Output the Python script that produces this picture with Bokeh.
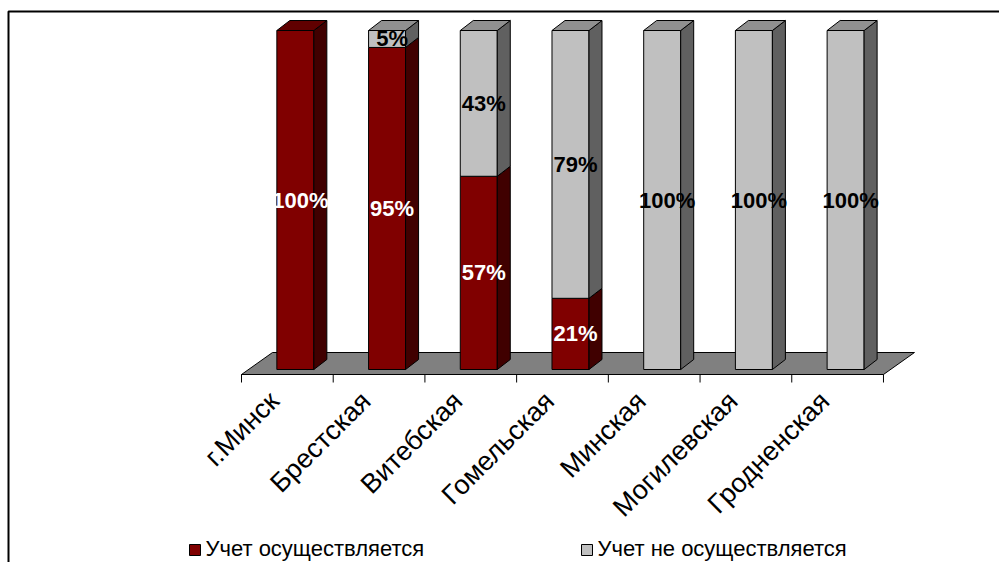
import math

from bokeh.core.properties import value
from bokeh.embed import file_html
from bokeh.models import ColumnDataSource, Range1d
from bokeh.plotting import figure
from bokeh.resources import INLINE

# ---- data -------------------------------------------------------------
categories = ["г.Минск", "Брестская", "Витебская", "Гомельская",
              "Минская", "Могилевская", "Гродненская"]
accounted = [100, 95, 57, 21, 0, 0, 0]          # %
not_accounted = [0, 5, 43, 79, 100, 100, 100]   # %
series_names = ["Учет осуществляется", "Учет не осуществляется"]

# ---- styling ----------------------------------------------------------
W, H = 999, 562
FONT = value("Liberation Sans")
RED = dict(front="#800000", side="#400000", top="#600000")
GRAY = dict(front="#C0C0C0", side="#606060", top="#909090")
FLOOR = "#808080"

# screen geometry of the category axis / value axis (pixels)
AXIS_LEFT_PX = 241.0     # where the category axis starts
CAT_PX = 91.71           # width of one category
BASE_PX = 369.0          # screen y of 0 %
PCT_PX = 3.39            # pixels per percent

BAR_W_PX = 37.0
BAR_SHIFT_PX = 8.0       # bars sit slightly back on the floor
DEPTH_X_PX, DEPTH_Y_PX = 13.0, 10.0      # bar depth (oblique)
FLOOR_DX_PX, FLOOR_DY_PX = 31.0, 22.0    # floor depth


def ux(px):
    """horizontal pixel length -> data units"""
    return px / CAT_PX


def uy(px):
    """vertical pixel length -> data units"""
    return px / PCT_PX


def sx(px):
    """screen x -> data x"""
    return (px - AXIS_LEFT_PX) / CAT_PX


def sy(py):
    """screen y -> data y"""
    return (BASE_PX - py) / PCT_PX


p = figure(width=W, height=H, output_backend="svg", toolbar_location=None,
           x_range=Range1d(sx(0), sx(W)), y_range=Range1d(sy(H), sy(0)),
           x_axis_location=None, y_axis_location=None,
           min_border=0, min_border_left=0, min_border_right=0,
           min_border_top=0, min_border_bottom=0)
p.grid.visible = False
p.outline_line_color = None
p.background_fill_color = "white"
p.border_fill_color = "white"

n = len(categories)

# ---- floor --------------------------------------------------------------
fy0 = -uy(5)
p.patch([0, n, n + ux(FLOOR_DX_PX), ux(FLOOR_DX_PX)],
        [fy0, fy0, fy0 + uy(FLOOR_DY_PX), fy0 + uy(FLOOR_DY_PX)],
        fill_color=FLOOR, line_color="black", line_width=1)

# ---- category axis --------------------------------------------------------
p.segment(x0=[0], y0=[fy0], x1=[n], y1=[fy0], line_color="black", line_width=1)
ticks = list(range(n + 1))
p.segment(x0=ticks, y0=[fy0] * len(ticks), x1=ticks,
          y1=[fy0 - uy(8)] * len(ticks), line_color="black", line_width=1)

# ---- 3D stacked bars ---------------------------------------------------
ddx, ddy = ux(DEPTH_X_PX), uy(DEPTH_Y_PX)
bw = ux(BAR_W_PX)
xs, ys, fills = [], [], []
label_x, label_y, label_t, label_c = [], [], [], []
for i in range(n):
    left = i + 0.5 - bw / 2 + ux(BAR_SHIFT_PX)
    right = left + bw
    segs = [(0, accounted[i], RED, "white"),
            (accounted[i], accounted[i] + not_accounted[i], GRAY, "black")]
    segs = [s for s in segs if s[1] > s[0]]
    for k, (lo, hi, col, tcol) in enumerate(segs):
        # front face
        xs.append([left, right, right, left])
        ys.append([lo, lo, hi, hi])
        fills.append(col["front"])
        # side face
        xs.append([right, right + ddx, right + ddx, right])
        ys.append([lo, lo + ddy, hi + ddy, hi])
        fills.append(col["side"])
        if k == len(segs) - 1:
            # top face
            xs.append([left, right, right + ddx, left + ddx])
            ys.append([hi, hi, hi + ddy, hi + ddy])
            fills.append(col["top"])
        label_x.append((left + right) / 2 + ux(5))
        label_y.append((lo + hi) / 2)
        label_t.append(f"{hi - lo}%")
        label_c.append(tcol)

p.patches(xs=xs, ys=ys, fill_color=fills, line_color="black", line_width=1)

lab_src = ColumnDataSource(dict(x=label_x, y=label_y, text=label_t, color=label_c))
p.text(x="x", y="y", text="text", text_color="color", source=lab_src,
       text_font=FONT, text_font_size="22px", text_font_style="bold",
       text_align="center", text_baseline="middle")

# ---- category labels (rotated) ------------------------------------------
cat_src = ColumnDataSource(dict(
    x=[i + 0.5 - ux(13) for i in range(n)],
    y=[sy(396)] * n,
    text=categories))
p.text(x="x", y="y", text="text", source=cat_src, angle=math.pi / 4,
       text_font=FONT, text_font_size="27px", text_color="black",
       text_align="right", text_baseline="middle")

# ---- legend -------------------------------------------------------------
leg_sq = [(189, RED["front"]), (581, GRAY["front"])]
p.rect(x=[sx(px + 5.5) for px, _ in leg_sq], y=[sy(549.5)] * 2,
       width=ux(11), height=uy(11), fill_color=[c for _, c in leg_sq],
       line_color="black", line_width=1)
leg_src = ColumnDataSource(dict(x=[sx(205), sx(597)], y=[sy(548)] * 2,
                                text=series_names))
p.text(x="x", y="y", text="text", source=leg_src, text_font=FONT,
       text_font_size="22px", text_color="black",
       text_align="left", text_baseline="middle")

# ---- chart border ---------------------------------------------------------
p.line(x=[sx(8), sx(8), sx(W + 5)], y=[sy(H + 5), sy(11), sy(11)],
       line_color="black", line_width=2)

open("out.html", "w").write(file_html(p, INLINE))
